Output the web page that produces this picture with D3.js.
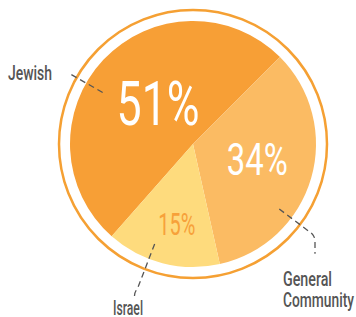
<!DOCTYPE html>
<html lang="en">
<head>
<meta charset="UTF-8">
<title>Pie</title>
<script src="https://d3js.org/d3.v7.min.js"></script>
<style>
  body { margin: 0; background: #fff; }
  text { font-family: Roboto, "Liberation Sans", sans-serif; }
</style>
</head>
<body>
<script>
    // data
    let categories = ["Jewish", "General Community", "Israel"];
    let values = [51, 34, 15];
    let pct_labels = ["51%", "34%", "15%"];

    let width = 356, height = 317;
    let cx = 193, cy = 144;
    let pie_r = 123, ring_r = 134;
    let deg = Math.PI / 180;

    let colors = d3.scaleOrdinal().domain(categories).range(["#f79f36", "#fbbb63", "#fedb7d"]);

    let svg = d3.select('body').append('svg')
        .attr('width', width)
        .attr('height', height);

    let g = svg.append('g').attr('transform', 'translate(' + cx + ',' + cy + ')');

    g.append('circle')
        .attr('r', ring_r)
        .attr('fill', 'none')
        .attr('stroke', '#f5a033')
        .attr('stroke-width', 2.5);

    let pie = d3.pie().sort(null)
        .startAngle(-138.6 * deg)
        .endAngle(221.4 * deg);
    let arcs = pie(values);
    let arc = d3.arc().innerRadius(0).outerRadius(pie_r);

    g.selectAll('path.slice')
        .data(arcs)
        .enter()
        .append('path')
        .attr('class', 'slice')
        .attr('d', arc)
        .attr('fill', function (d, i) { return colors(categories[i]) });

    // percentage labels: polar offset from the slice centre
    let pct_style = [
        {r: 54, da: 6.5, size: 62, w: 83, fill: '#fff'},
        {r: 66, da: -3, size: 45, w: 61, fill: '#fff'},
        {r: 82, da: -3, size: 31, w: 37, fill: '#f7a13a'}
    ];
    function polar(a, r) {
        return [r * Math.sin(a), -r * Math.cos(a)];
    }
    g.selectAll('text.pct')
        .data(arcs)
        .enter()
        .append('text')
        .attr('class', 'pct')
        .each(function (d, i) {
            let s = pct_style[i];
            let mid = (d.startAngle + d.endAngle) / 2 + s.da * deg;
            let p = polar(mid, s.r);
            d3.select(this)
                .attr('x', p[0] - s.w / 2)
                .attr('y', p[1] + s.size * 0.711 / 2)
                .attr('font-size', s.size)
                .attr('textLength', s.w)
                .attr('lengthAdjust', 'spacingAndGlyphs')
                .attr('fill', s.fill)
                .text(pct_labels[i]);
        });

    // leader lines
    let leaders = [
        {a: -60.3, r1: 104, r2: 141, drop: 0},
        {a: 127, r1: 108, r2: 149, drop: 20},
        {a: 201, r1: 107, r2: 155, drop: 8}
    ];
    leaders.forEach(function (l) {
        let p1 = polar(l.a * deg, l.r1);
        let p2 = polar(l.a * deg, l.r2);
        let path = d3.path();
        path.moveTo(p1[0], p1[1]);
        path.lineTo(p2[0], p2[1]);
        if (l.drop) {
            let dir = Math.sin(l.a * deg) > 0 ? 1 : -1;
            path.quadraticCurveTo(p2[0] + dir * 3, p2[1] + 3, p2[0] + dir * 3, p2[1] + 8);
            path.lineTo(p2[0] + dir * 3, p2[1] + l.drop);
        }
        g.append('path')
            .attr('d', path.toString())
            .attr('fill', 'none')
            .attr('stroke', '#555')
            .attr('stroke-width', 1.3)
            .attr('stroke-dasharray', '6,4');
    });

    // category labels
    let cat_lines = [["Jewish"], ["General", "Community"], ["Israel"]];
    let cat_pos = [
        {x: 8, y: 80, w: [44]},
        {x: 283, y: 286, w: [49, 71]},
        {x: 113, y: 315, w: [30]}
    ];
    cat_lines.forEach(function (lines, i) {
        lines.forEach(function (t, j) {
            svg.append('text')
                .attr('x', cat_pos[i].x)
                .attr('y', cat_pos[i].y + j * 21)
                .attr('font-size', 20)
                .attr('font-weight', 500)
                .attr('fill', '#555')
                .attr('textLength', cat_pos[i].w[j])
                .attr('lengthAdjust', 'spacingAndGlyphs')
                .text(t);
        });
    });
</script>
</body>
</html>
